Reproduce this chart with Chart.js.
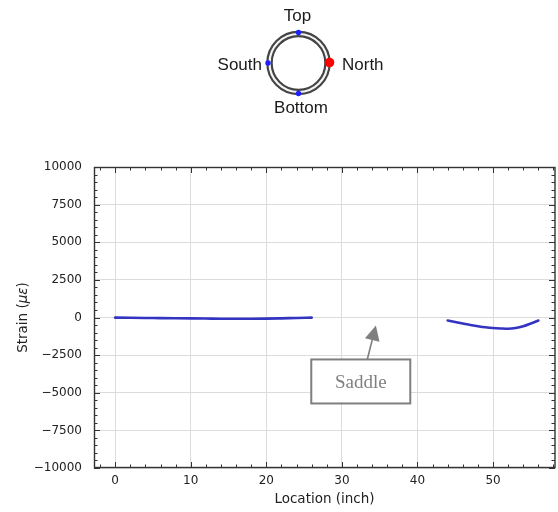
<!DOCTYPE html>
<html>
<head>
<meta charset="utf-8">
<script src="https://cdn.jsdelivr.net/npm/chart.js@4/dist/chart.umd.min.js"></script>
<style>
  html, body { margin: 0; padding: 0; background: #fff; }
  #wrap { width: 558px; height: 512px; position: relative; }
</style>
</head>
<body>
<div id="wrap"><canvas id="strain" width="558" height="512"></canvas></div>
<script>
// North gauge strain readings along the pipe, in two segments
const westLocation  = [0, 2, 4, 6, 8, 10, 12, 14, 16, 18, 20, 22, 24, 26];
const westStrain    = [-10, -20, -30, -40, -50, -60, -70, -80, -80, -80, -75, -55, -30, -10];
const eastLocation  = [44, 45, 46, 47, 48, 49, 50, 51, 52, 53, 54, 55, 56];
const eastStrain    = [-200, -300, -400, -500, -580, -650, -700, -730, -750, -700, -580, -400, -200];

// axis ticks
const xTicks = [0, 10, 20, 30, 40, 50];
const yTicks = [-10000, -7500, -5000, -2500, 0, 2500, 5000, 7500, 10000];
const xMinorStep = 2;
const yMinorStep = 500;

// annotation anchor (data units)
const saddleLabel = 'Saddle';
const saddleBox = { x: 32.5, y: -4250 };
const saddlePoint = { x: 34.5, y: -530 };

const toPoints = (xs, ys) => xs.map((x, i) => ({ x, y: ys[i] }));
const fmt = v => (v < 0 ? '\u2212' + Math.abs(v) : String(v));

const LINE = '#3434c2';
const AXIS = '#222222';
const TICKFONT = 'DejaVu Sans';

// pipe cross-section sketch with gauge positions
const sectionPlugin = {
  id: 'section',
  afterDraw(chart) {
    const ctx = chart.ctx;
    const cx = 298.5, cy = 63, r = 29;
    ctx.save();
    ctx.beginPath(); ctx.arc(cx, cy, r, 0, Math.PI * 2);
    ctx.strokeStyle = '#444444'; ctx.lineWidth = 6.5; ctx.stroke();
    ctx.beginPath(); ctx.arc(cx, cy, r, 0, Math.PI * 2);
    ctx.strokeStyle = '#f4f4f4'; ctx.lineWidth = 2.2; ctx.stroke();

    const dot = (x, y, rad, col) => { ctx.beginPath(); ctx.arc(x, y, rad, 0, Math.PI * 2); ctx.fillStyle = col; ctx.fill(); };
    dot(cx, cy - r - 1.5, 2.7, '#2020ff');
    dot(cx, cy + r + 1.5, 2.7, '#2020ff');
    dot(cx - r - 1.5, cy, 2.7, '#2020ff');
    dot(cx + r + 2, cy - 0.5, 4.8, '#ff0000');

    ctx.fillStyle = '#1a1a1a';
    ctx.font = '17px "Liberation Sans", Arial, sans-serif';
    ctx.textBaseline = 'middle';
    ctx.textAlign = 'center';
    ctx.fillText('Top', cx - 1, 16);
    ctx.fillText('Bottom', cx + 2.5, 108);
    ctx.textAlign = 'right';
    ctx.fillText('South', 262, 65);
    ctx.textAlign = 'left';
    ctx.fillText('North', 342, 65);
    ctx.restore();
  }
};

// matplotlib-style frame with inward major/minor ticks on all sides
const framePlugin = {
  id: 'frame',
  afterDatasetsDraw(chart) {
    const { ctx, chartArea: a, scales: { x, y } } = chart;
    ctx.save();
    ctx.strokeStyle = '#333333';
    ctx.lineWidth = 1;
    const major = 6, minor = 3.5;
    const xmin = x.min, xmax = x.max;
    ctx.beginPath();
    for (let v = Math.ceil(xmin / xMinorStep) * xMinorStep; v <= xmax + 1e-9; v += xMinorStep) {
      const px = Math.round(x.getPixelForValue(v)) + 0.5;
      const len = (v % 10 === 0) ? major : minor;
      ctx.moveTo(px, a.bottom); ctx.lineTo(px, a.bottom - len);
      ctx.moveTo(px, a.top); ctx.lineTo(px, a.top + len);
    }
    for (let v = y.min; v <= y.max + 1e-9; v += yMinorStep) {
      const py = Math.round(y.getPixelForValue(v)) + 0.5;
      const len = (v % 2500 === 0) ? major : minor;
      ctx.moveTo(a.left, py); ctx.lineTo(a.left + len, py);
      ctx.moveTo(a.right, py); ctx.lineTo(a.right - len, py);
    }
    ctx.stroke();
    ctx.lineWidth = 1.4;
    ctx.strokeRect(a.left + 0.5, a.top + 0.5, a.right - a.left - 0.5, a.bottom - a.top - 1);

    // y axis title with italic symbol
    ctx.fillStyle = AXIS;
    const parts = [
      ['Strain (', '13.5px "DejaVu Sans"'],
      ['\u03bc\u03b5', 'italic 13.5px "DejaVu Sans"'],
      [')', '13.5px "DejaVu Sans"']
    ];
    let total = 0;
    parts.forEach(p => { ctx.font = p[1]; total += ctx.measureText(p[0]).width; });
    ctx.translate(23.5, (a.top + a.bottom) / 2);
    ctx.rotate(-Math.PI / 2);
    ctx.textBaseline = 'middle';
    ctx.textAlign = 'left';
    let off = -total / 2;
    parts.forEach(p => { ctx.font = p[1]; ctx.fillText(p[0], off, 0); off += ctx.measureText(p[0]).width; });
    ctx.restore();
  }
};

// boxed text label with arrow pointing at the saddle region
const annotationPlugin = {
  id: 'saddleNote',
  afterDraw(chart) {
    const { ctx, scales: { x, y } } = chart;
    const bx = x.getPixelForValue(saddleBox.x), by = y.getPixelForValue(saddleBox.y);
    const tx = x.getPixelForValue(saddlePoint.x), ty = y.getPixelForValue(saddlePoint.y);
    const w = 99, h = 44;
    const sx = bx + 6.5, sy = by - h / 2;
    ctx.save();
    const col = '#7f7f7f';
    const ang = Math.atan2(ty - sy, tx - sx);
    const headLen = 15, headW = 7.5;
    const hx = tx - headLen * Math.cos(ang), hy = ty - headLen * Math.sin(ang);
    ctx.strokeStyle = col; ctx.lineWidth = 1.6;
    ctx.beginPath(); ctx.moveTo(sx, sy); ctx.lineTo(hx, hy); ctx.stroke();
    ctx.fillStyle = col;
    ctx.beginPath();
    ctx.moveTo(tx, ty);
    ctx.lineTo(hx + headW * Math.sin(ang), hy - headW * Math.cos(ang));
    ctx.lineTo(hx - headW * Math.sin(ang), hy + headW * Math.cos(ang));
    ctx.closePath(); ctx.fill();
    ctx.fillStyle = '#ffffff';
    ctx.fillRect(bx - w / 2, by - h / 2, w, h);
    ctx.strokeStyle = col; ctx.lineWidth = 2;
    ctx.strokeRect(bx - w / 2, by - h / 2, w, h);
    ctx.fillStyle = col;
    ctx.font = '19px "Liberation Serif", "DejaVu Serif", serif';
    ctx.textAlign = 'center'; ctx.textBaseline = 'middle';
    ctx.fillText(saddleLabel, bx, by + 1.5);
    ctx.restore();
  }
};

new Chart(document.getElementById('strain'), {
  type: 'scatter',
  data: {
    datasets: [
      { data: toPoints(westLocation, westStrain) },
      { data: toPoints(eastLocation, eastStrain) }
    ].map(d => Object.assign(d, {
      showLine: true,
      borderColor: LINE,
      backgroundColor: LINE,
      borderWidth: 2.6,
      pointRadius: 0,
      tension: 0.4,
      cubicInterpolationMode: 'monotone',
      borderCapStyle: 'round'
    }))
  },
  options: {
    responsive: false,
    animation: false,
    devicePixelRatio: 1,
    layout: { padding: { top: 167, right: 3, bottom: 0, left: 0 } },
    plugins: { legend: { display: false }, tooltip: { enabled: false } },
    scales: {
      x: {
        type: 'linear',
        min: -2.8,
        max: 58.2,
        afterBuildTicks: s => { s.ticks = xTicks.map(v => ({ value: v })); },
        afterFit: s => { s.height = 44; },
        grid: { color: '#dcdcdc', lineWidth: 1, drawTicks: false },
        border: { display: false },
        ticks: { color: AXIS, font: { family: TICKFONT, size: 12 }, padding: 6, maxRotation: 0, callback: v => fmt(v) },
        title: { display: true, text: 'Location (inch)', color: AXIS, font: { family: TICKFONT, size: 13.5 }, padding: 4 }
      },
      y: {
        type: 'linear',
        min: -10000,
        max: 10000,
        afterBuildTicks: s => { s.ticks = yTicks.map(v => ({ value: v })); },
        afterFit: s => { s.width = 94; },
        grid: { color: '#dcdcdc', lineWidth: 1, drawTicks: false },
        border: { display: false },
        ticks: { color: AXIS, font: { family: TICKFONT, size: 12 }, padding: 12, callback: v => fmt(v) }
      }
    }
  },
  plugins: [framePlugin, annotationPlugin, sectionPlugin]
});
</script>
</body>
</html>
